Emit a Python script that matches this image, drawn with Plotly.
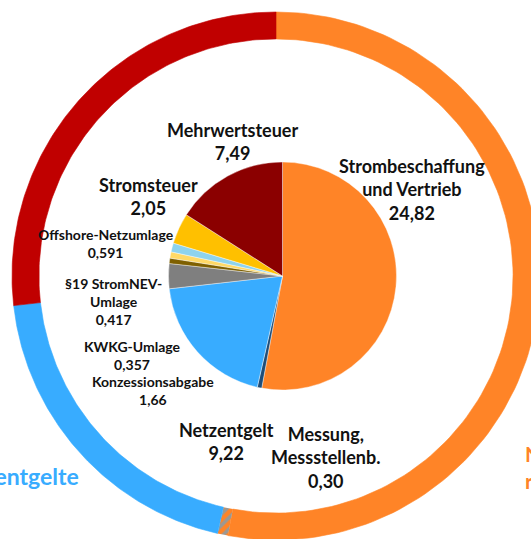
import numpy as np
import plotly.graph_objects as go

# Bestandteile des Strompreises in ct/kWh (innerer Kreis, im Uhrzeigersinn ab 12 Uhr)
teile = ["Strombeschaffung und Vertrieb", "Messung, Messstellenb.", "Netzentgelt",
         "Konzessionsabgabe", "KWKG-Umlage", "§19 StromNEV-Umlage",
         "Offshore-Netzumlage", "Stromsteuer", "Mehrwertsteuer"]
werte = [24.82, 0.30, 9.22, 1.66, 0.357, 0.417, 0.591, 2.05, 7.49]
werte_text = ["24,82", "0,30", "9,22", "1,66", "0,357", "0,417", "0,591", "2,05", "7,49"]
farben = ["#FF8427", "#1F4E79", "#38ACFF", "#7F7F7F", "#7F6000",
          "#FFD966", "#8ED3EE", "#FFC000", "#8B0000"]

# Außenring: Gruppen aus den Bestandteilen
gruppen = ["Strombeschaffung", "Messung", "Netzentgelte", "Steuern, Abgaben, Umlagen"]
gruppen_werte = [werte[0], werte[1], werte[2], sum(werte[3:])]
ring_farben = ["#FF8427", None, "#38ACFF", "#C00000"]

W, H = 531, 539
FONT = "Lato"

fig = go.Figure()

# Außenring als gefüllte Bögen (Radius 1 = äußerer Rand)
r_out, r_in = 1.0, 0.898
total = sum(gruppen_werte)
start = 0.0
for name, v, col in zip(gruppen, gruppen_werte, ring_farben):
    t = np.linspace(start, start + v, 120) / total * 2 * np.pi
    xs = np.concatenate([r_out * np.sin(t), r_in * np.sin(t[::-1]), [r_out * np.sin(t[0])]])
    ys = np.concatenate([r_out * np.cos(t), r_in * np.cos(t[::-1]), [r_out * np.cos(t[0])]])
    if col is None:
        # Messung schraffiert (orange/blau)
        fig.add_trace(go.Scatter(x=xs, y=ys, mode="lines", fill="toself",
                                 line=dict(width=0, color="#FF8427"),
                                 fillcolor="#FF8427",
                                 fillpattern=dict(shape="/", bgcolor="#FF8427",
                                                  fgcolor="#38ACFF", size=8, solidity=0.45),
                                 hoverinfo="skip", name=name, showlegend=False))
    else:
        fig.add_trace(go.Scatter(x=xs, y=ys, mode="lines", fill="toself",
                                 line=dict(width=0.6, color=col), fillcolor=col,
                                 hoverinfo="skip", name=name, showlegend=False))
    start += v

# innerer Kreis
fig.add_trace(go.Pie(
    labels=teile, values=werte, sort=False, direction="clockwise", rotation=0,
    marker=dict(colors=farben, line=dict(color="white", width=0.4)),
    textinfo="none", hole=0, showlegend=False,
    domain=dict(x=[0.3173, 0.7467], y=[0.2764, 0.6994]),
))

# Beschriftungen (Pixelposition der Blockmitte, Schriftgröße)
beschriftung = [
    ("Mehrwertsteuer<br>" + werte_text[8], 232, 141, 18),
    ("Strombeschaffung<br>und Vertrieb<br>" + werte_text[0], 412, 189, 18),
    ("Stromsteuer<br>" + werte_text[7], 148, 196, 18),
    ("Offshore-Netzumlage<br>" + werte_text[6], 106, 243, 14),
    ("§19 StromNEV-<br>Umlage<br>" + werte_text[5], 113, 301, 14),
    ("KWKG-Umlage<br>" + werte_text[4], 132, 355, 14),
    ("Konzessionsabgabe<br>" + werte_text[3], 153, 390, 14),
    ("Netzentgelt<br>" + werte_text[2], 226, 441, 18),
    ("Messung,<br>Messstellenb.<br>" + werte_text[1], 326, 457, 18),
]
annotations = []
for txt, px, py, size in beschriftung:
    annotations.append(dict(
        text="<b>" + txt + "</b>", x=px / W, y=1 - py / H, xref="paper", yref="paper",
        xanchor="center", yanchor="middle", showarrow=False, align="center",
        font=dict(family=FONT, size=size, color="#111111")))

annotations.append(dict(
    text="<b>Netzentgelte</b>", x=81 / W, y=1 - 476 / H, xref="paper", yref="paper",
    xanchor="right", yanchor="middle", showarrow=False,
    font=dict(family=FONT, size=23, color="#38ACFF")))
annotations.append(dict(
    text="<b>Nicht<br>reguliert</b>", x=523 / W, y=1 - 467 / H, xref="paper", yref="paper",
    xanchor="left", yanchor="middle", showarrow=False, align="left",
    font=dict(family=FONT, size=21, color="#FF8427")))

cx, cy, R = 276, 276, 264
fig.update_layout(
    width=W, height=H,
    margin=dict(l=0, r=0, t=0, b=0),
    paper_bgcolor="white", plot_bgcolor="white",
    xaxis=dict(range=[-cx / R, (W - cx) / R], visible=False, fixedrange=True),
    yaxis=dict(range=[-(H - cy) / R, cy / R], visible=False, fixedrange=True),
    annotations=annotations,
    showlegend=False,
)

# Seitenrand des Browsers entfernen, damit die Grafik bündig sitzt
fig.write_html("out.html", config={"displayModeBar": False},
               post_script="document.body.style.margin='0px';")
